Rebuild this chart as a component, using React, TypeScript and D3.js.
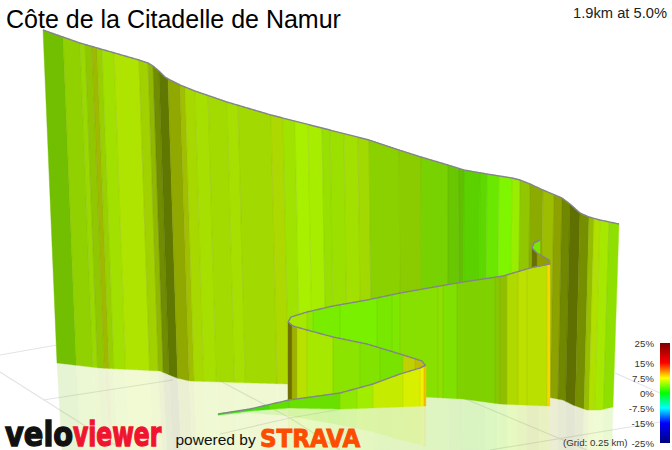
import * as d3 from 'd3';

const title = 'Côte de la Citadelle de Namur';
const summary = '1.9km at 5.0%';

// gradient key
const legendValues = [25, 15, 7.5, 0, -7.5, -15, -25];
const legendLabels = ['25%', '15%', '7.5%', '0%', '-7.5%', '-15%', '-25%'];
const legendColors = ['#800000', '#ff0000', '#ffff00', '#00ff00', '#00ffff', '#0000ff', '#000080'];

const wallTopX = [43, 80, 139, 148, 153, 159, 165, 170, 180, 195, 227, 271, 369, 399, 421, 448, 464, 487, 512, 520, 530, 543, 562, 570, 580, 589, 600, 619];
const wallTopY = [30, 43, 60, 63, 66, 71, 77, 80, 85, 91, 102, 115, 140, 150, 157, 165, 170, 174, 178, 180, 184, 190, 198, 204, 213, 217, 220, 224];
const wallBaseX = [57, 100, 160, 177, 190, 287, 425, 547, 563, 573, 587, 600, 613];
const wallBaseY = [363, 368, 371, 378, 381, 384, 390, 397, 400, 405, 410, 410, 407];
const wallEdges = [43, 63, 80, 85, 92, 97, 102, 114, 139, 148, 153, 159, 168, 180, 185, 195, 208, 227, 238, 271, 283, 295, 308, 322, 330, 344, 358, 369, 399, 421, 448, 459, 464, 480, 487, 499, 512, 520, 530, 543, 554, 562, 570, 580, 589, 594, 600, 609, 619];
const wallGradient = [4.4, 5.2, 5.3, 5.4, 6.5, 5.5, 5.4, 5.8, 5.8, 5.9, 6, 6, 6.4, 6.3, 5.8, 5.6, 5.6, 5.6, 5.6, 6, 5.3, 5.3, 5.3, 5.1, 5.2, 5.4, 5.6, 5, 5.1, 4.3, 3.9, 3.75, 3.3, 3.2, 3.4, 3.9, 4.8, 5.4, 6.1, 6.2, 6.6, 6.2, 6.4, 6.2, 5.9, 5.9, 5.4, 4.8];
const wallShade = [0.75, 0.82, 0.85, 0.78, 0.72, 0.82, 0.88, 0.89, 0.82, 0.72, 0.55, 0.47, 0.66, 0.75, 0.85, 0.88, 0.86, 0.88, 0.85, 0.85, 0.89, 0.94, 0.93, 0.88, 0.88, 0.88, 0.85, 0.82, 0.8, 0.82, 0.78, 0.75, 0.82, 0.85, 0.91, 0.96, 0.93, 0.78, 0.67, 0.74, 0.63, 0.53, 0.44, 0.56, 0.75, 0.88, 0.91, 0.88];

// road after the hairpin, running away to the right
const upperTopX = [288, 291, 307, 333, 367, 400, 440, 463, 503, 530, 550];
const upperTopY = [322, 317, 312, 306, 300, 293, 286, 282, 276, 268, 264];
const upperBaseX = [288, 425, 463, 500, 547, 550];
const upperBaseY = [395, 397, 399, 404, 406, 406];
const upperEdges = [288, 307, 313, 340, 377, 392, 400, 438, 443, 457, 495, 500, 507, 518, 527, 547, 550];
const upperGradient = [5.4, 4.6, 3.8, 3.75, 3.9, 4.1, 4.55, 4.8, 4.3, 4.6, 5.1, 5.6, 6.1, 6.3, 6.2, 8.6];
const upperShade = [0.91, 0.91, 0.93, 0.94, 0.91, 0.91, 0.88, 0.88, 0.88, 0.82, 0.78, 0.75, 0.85, 0.88, 0.88, 0.98];

// middle leg between the two bends
const middleTopX = [288, 293, 307, 333, 367, 400, 422, 425];
const middleTopY = [322, 326, 330, 337, 344, 354, 361, 365];
const middleBaseX = [288, 425];
const middleBaseY = [402, 402];
const middleEdges = [288, 292, 297, 307, 333, 360, 380, 403, 415, 425];
const middleGradient = [7.5, 6.8, 6.2, 5.4, 4.6, 4.3, 4, 6.9, 7.5];
const middleShade = [0.44, 0.69, 0.88, 0.91, 0.89, 0.89, 0.89, 0.82, 0.75];

// first leg, starts as a thin wedge
const frontTopX = [218, 250, 289, 340, 373, 400, 420, 426];
const frontTopY = [414, 409, 400, 393, 384, 374, 368, 365];
const frontBaseX = [218, 250, 289, 340, 373, 426];
const frontBaseY = [415, 411, 408, 409, 408, 406];
const frontEdges = [218, 250, 269, 289, 340, 357, 373, 403, 420, 424, 426];
const frontGradient = [1.55, 2.1, 3.2, 3.5, 4.6, 5.1, 6.3, 6.75, 7.5, 9.2];
const frontShade = [0.91, 0.88, 0.88, 0.88, 0.91, 0.93, 0.92, 0.94, 0.94, 0.97];

// far end of the climb, peeking over the upper leg
const farTopX = [532, 537, 549, 550];
const farTopY = [248, 253, 260, 264];
const farEdges = [532, 537, 550];
const farGradient = [6.9, 6.9];
const farShade = [0.44, 0.62];
const tipTopX = [532, 534, 540];
const tipTopY = [248, 243, 240];

// floor grid segments: x1, y1, x2, y2
const gridLines = [
  [0, 355, 57, 345],
  [0, 372, 120, 448],
  [43, 400, 173, 380],
  [222, 382, 290, 418],
  [290, 418, 440, 392],
  [290, 418, 220, 434],
  [290, 418, 340, 450],
  [463, 398, 587, 450],
  [490, 450, 660, 422],
  [615, 373, 660, 393]
];

const legendY = d3.scaleLinear().domain([25, -25]).range([343, 443]);
const gradientColor = d3.scaleLinear<string>().domain(legendValues).range(legendColors);

function stripColor(gradient: number, shade: number) {
  const c = d3.rgb(gradientColor(gradient));
  return d3.rgb(c.r * shade, c.g * shade, c.b * shade).formatHex();
}

type Pt = [number, number];
const sceneLine = d3.line<Pt>().x(d => d[0]).y(d => d[1]);

function sample(a: number, b: number) {
  return [...d3.range(a, b, 1), b];
}

interface Ribbon {
  edges: number[];
  gradient: number[];
  shade: number[];
  top: (x: number) => number;
  base: (x: number) => number;
  lean: (x: number) => number;
}

function makeRibbon(edges: number[], gradient: number[], shade: number[], topX: number[], topY: number[], baseX: number[], baseY: number[], lean: (x: number) => number = x => x): Ribbon {
  return {
    edges,
    gradient,
    shade,
    top: d3.scaleLinear().domain(topX).range(topY),
    base: d3.scaleLinear().domain(baseX).range(baseY),
    lean
  };
}

const wallLean = d3.scaleLinear().domain([43, 619]).range([57, 613]);
const floorLean = d3.scaleLinear().domain([43, 619]).range([62, 612]);

const wall = makeRibbon(wallEdges, wallGradient, wallShade, wallTopX, wallTopY, wallBaseX, wallBaseY, wallLean);
const upper = makeRibbon(upperEdges, upperGradient, upperShade, upperTopX, upperTopY, upperBaseX, upperBaseY);
const middle = makeRibbon(middleEdges, middleGradient, middleShade, middleTopX, middleTopY, middleBaseX, middleBaseY);
const front = makeRibbon(frontEdges, frontGradient, frontShade, frontTopX, frontTopY, frontBaseX, frontBaseY);
const far = makeRibbon(farEdges, farGradient, farShade, farTopX, farTopY, [532, 550], [276, 276]);
const tip = makeRibbon([532, 540], [3.9], [0.91], tipTopX, tipTopY, [532, 540], [262, 262]);

function RibbonStrips({ ribbon }: { ribbon: Ribbon }) {
  const start = ribbon.edges[0];
  const end = ribbon.edges[ribbon.edges.length - 1];
  const baseAt = (x: number): Pt => [ribbon.lean(x), ribbon.base(ribbon.lean(x))];
  return (
    <g>
      {ribbon.gradient.map((g, i) => {
        const xs = sample(ribbon.edges[i], ribbon.edges[i + 1]);
        const pts: Pt[] = [
          ...xs.map(x => [x, ribbon.top(x)] as Pt),
          ...xs.slice().reverse().map(baseAt)
        ];
        const color = stripColor(g, ribbon.shade[i]);
        return <path key={i} d={sceneLine(pts) + 'Z'} fill={color} stroke={color} strokeWidth={0.4} />;
      })}
      {/* the slightly darker seam between strips */}
      {ribbon.edges.slice(1, -1).map(x => {
        const b = baseAt(x);
        return (
          <line key={x} x1={x} y1={ribbon.top(x)} x2={b[0]} y2={b[1]} stroke="#5a6400" strokeOpacity={0.1} strokeWidth={1} />
        );
      })}
      <path
        d={sceneLine(sample(start, end).map(x => [x, ribbon.top(x)] as Pt)) ?? ''}
        fill="none"
        stroke="#84848c"
        strokeWidth={1.4}
      />
    </g>
  );
}

function RibbonReflection({ ribbon, opacity }: { ribbon: Ribbon; opacity: number }) {
  return (
    <g opacity={opacity}>
      {ribbon.gradient.map((g, i) => {
        const xs = sample(ribbon.edges[i], ribbon.edges[i + 1]);
        const pts: Pt[] = [
          ...xs.map(x => [x, ribbon.base(x)] as Pt),
          ...xs.slice().reverse().map(x => [x, 2 * ribbon.base(x) - ribbon.top(x)] as Pt)
        ];
        return <path key={i} d={sceneLine(pts) + 'Z'} fill={stripColor(g, ribbon.shade[i])} />;
      })}
    </g>
  );
}

export default function App() {
  const sans = '"Liberation Sans", Arial, sans-serif';
  const logo = '"DejaVu Sans", sans-serif';

  return (
    <svg
      width={672}
      height={450}
      viewBox="0 0 672 450"
      style={{ position: 'absolute', left: 0, top: 0, background: '#fff' }}
    >
      <defs>
        <linearGradient id="key" x1="0" y1="0" x2="0" y2="1">
          {legendValues.map((v, i) => (
            <stop key={v} offset={`${(25 - v) * 2}%`} stopColor={legendColors[i]} />
          ))}
        </linearGradient>
      </defs>

      {/* floor grid */}
      {gridLines.map((d, i) => (
        <line key={i} x1={d[0]} y1={d[1]} x2={d[2]} y2={d[3]} stroke="#e4e4e8" strokeWidth={1.2} />
      ))}

      {/* wall reflection on the floor */}
      <g opacity={0.17}>
        {wallGradient.map((g, i) => {
          const xs = sample(wallEdges[i], wallEdges[i + 1]);
          const pts: Pt[] = [
            ...xs.map(x => [wallLean(x), wall.base(wallLean(x))] as Pt),
            ...xs.slice().reverse().map(x => [floorLean(x), 450] as Pt)
          ];
          const color = stripColor(g, wallShade[i]);
          return <path key={i} d={sceneLine(pts) + 'Z'} fill={color} stroke={color} strokeWidth={0.3} />;
        })}
      </g>
      <RibbonReflection ribbon={upper} opacity={0.08} />
      <RibbonReflection ribbon={front} opacity={0.14} />

      <RibbonStrips ribbon={wall} />
      <RibbonStrips ribbon={tip} />
      <RibbonStrips ribbon={far} />
      <RibbonStrips ribbon={upper} />
      <RibbonStrips ribbon={middle} />
      <RibbonStrips ribbon={front} />

      {/* titles */}
      <text x={6} y={28} fontFamily={sans} fontSize={25} fill="#000">{title}</text>
      <text x={667} y={18} textAnchor="end" fontFamily={sans} fontSize={14.7} fill="#222">{summary}</text>

      {/* gradient key */}
      <rect
        x={660}
        y={legendY(25)}
        width={10}
        height={legendY(-25) - legendY(25)}
        fill="url(#key)"
      />
      {legendValues.map((v, i) => (
        <text key={v} x={654} y={legendY(v) + 3.5} textAnchor="end" fontFamily={sans} fontSize={9.7} fill="#333">
          {legendLabels[i]}
        </text>
      ))}
      <text x={563} y={446} fontFamily={sans} fontSize={9.7} fill="#333">(Grid: 0.25 km)</text>

      {/* logos, squeezed horizontally so the wordmarks keep their height */}
      <text transform="translate(5,446) scale(0.85,1)" fontFamily={logo} fontWeight="bold" fontSize={34} fill="#111" stroke="#111" strokeWidth={1.4}>velo</text>
      <text transform="translate(73,446) scale(0.69,1)" fontFamily={logo} fontWeight="bold" fontSize={34} fill="#f0142f" stroke="#f0142f" strokeWidth={1.4}>viewer</text>
      <text x={175.5} y={445} fontFamily={sans} fontSize={15.5} fill="#111">powered by</text>
      <text transform="translate(260,447) scale(0.92,1)" fontFamily={logo} fontWeight="bold" fontSize={25} fill="#fc4c02" stroke="#fc4c02" strokeWidth={0.9}>STRAVA</text>
    </svg>
  );
}
